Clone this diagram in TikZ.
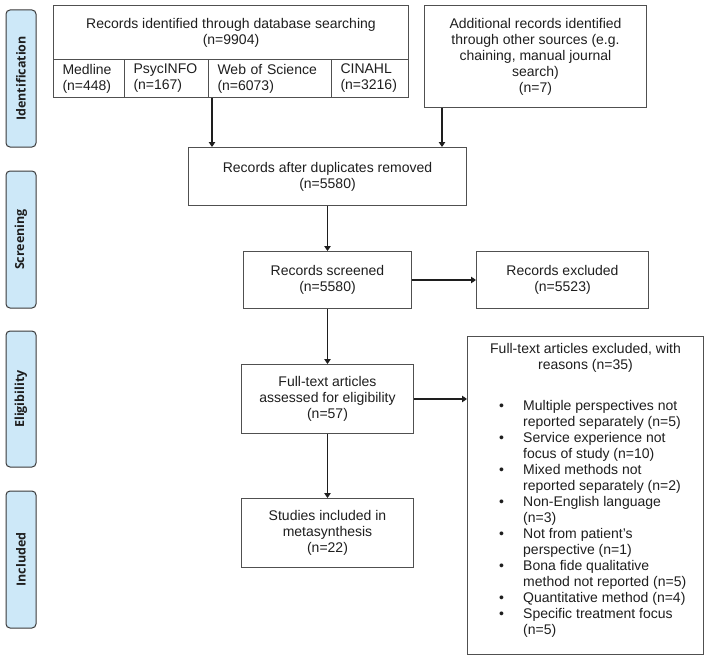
\documentclass[tikz,border=0pt]{standalone}
\usepackage{fontspec}
\setmainfont{Liberation Sans}
\newfontfamily\labfont{Open Sans}
\usetikzlibrary{arrows.meta}
\definecolor{boxline}{HTML}{505050}
\definecolor{sidefill}{HTML}{CDE8F8}
\definecolor{sideline}{HTML}{3A3A3A}
\definecolor{ink}{HTML}{1E1E1E}
\begin{document}
\begin{tikzpicture}[x=1pt,y=-1pt,
  every node/.style={font=\fontsize{14}{16}\selectfont, text=ink},
  box/.style={draw=boxline, line width=1pt, inner sep=0pt, anchor=north west, align=center},
  cell/.style={box, align=left, inner xsep=9pt, inner ysep=0pt, minimum height=38pt},
  side/.style={draw=sideline, fill=sidefill, rounded corners=4pt, line width=1pt,
    minimum width=30pt, minimum height=137pt, inner sep=0pt, font=\labfont\bfseries\fontsize{12.5}{14}\selectfont},
  arr/.style={draw=ink, line width=1.1pt, -{Triangle[length=5pt,width=6.5pt]}},
  plain/.style={inner sep=0pt}]
\useasboundingbox (0,0) rectangle (709,661);

% phase labels
\node[side] (sidid) at (21,78.5) {\rotatebox{90}{Identification}};
\node[side] (sidscr) at (21,239.5) {\rotatebox{90}{Screening}};
\node[side, minimum height=136pt] (sidel) at (21,399) {\rotatebox{90}{Eligibility}};
\node[side] (sidinc) at (21,559.5) {\rotatebox{90}{Included}};

% database search
\node[box, minimum width=355pt, minimum height=54pt] (dbhead) at (53,5)
  {Records identified through database searching\\(n=9904)};
\node[cell, text width=53pt] (medline) at (53,59) {Medline\\(n=448)};
\node[cell, text width=66pt] (psyc) at (124,59) {PsycINFO\\(n=167)};
\node[cell, text width=105pt] (wos) at (208,59) {Web of Science\\(n=6073)};
\node[cell, text width=59pt] (cinahl) at (331,59) {CINAHL\\(n=3216)};

% other sources
\node[box, minimum width=222pt, minimum height=102pt] (add) at (424,5)
  {Additional records identified\\through other sources (e.g.\\chaining, manual journal\\search)\\(n=7)};

\node[box, minimum width=278pt, minimum height=58pt] (dup) at (188,147)
  {Records after duplicates removed\\(n=5580)};
\node[box, minimum width=168pt, minimum height=57pt] (scr) at (243,251)
  {Records screened\\(n=5580)};
\node[box, minimum width=172pt, minimum height=57pt] (exc) at (476,251)
  {Records excluded\\(n=5523)};
\node[box, minimum width=172pt, minimum height=69pt] (elig) at (241,364)
  {Full-text articles\\assessed for eligibility\\(n=57)};
\node[box, minimum width=172pt, minimum height=69pt] (inc) at (241,498)
  {Studies included in\\metasynthesis\\(n=22)};

% full-text exclusion box
\node[box, minimum width=236pt, minimum height=318pt] (ftx) at (467,336) {};
\node[plain, align=center, anchor=base] (ftxtitle) at (585.5,369)
  {Full-text articles excluded, with\\reasons (n=35)};
\node[plain, anchor=base west] (ftxlist) at (499,410) {%
  \begin{tabular}[t]{@{}p{24pt}@{}l@{}}
  \textbullet & Multiple perspectives not\\
              & reported separately (n=5)\\
  \textbullet & Service experience not\\
              & focus of study (n=10)\\
  \textbullet & Mixed methods not\\
              & reported separately (n=2)\\
  \textbullet & Non-English language\\
              & (n=3)\\
  \textbullet & Not from patient’s\\
              & perspective (n=1)\\
  \textbullet & Bona fide qualitative\\
              & method not reported (n=5)\\
  \textbullet & Quantitative method (n=4)\\
  \textbullet & Specific treatment focus\\
              & (n=5)
  \end{tabular}};

% connectors
\draw[arr] ([xshift=4pt]wos.south west) -- ([xshift=4pt]wos.south west |- dup.north);
\draw[arr] ([xshift=18pt]add.south west) -- ([xshift=18pt]add.south west |- dup.north);
\draw[arr] (dup.south) -- (scr.north);
\draw[arr] (scr.east) -- (exc.west);
\draw[arr] (scr.south) -- (elig.north);
\draw[arr] (elig.east) -- (elig.east -| ftx.west);
\draw[arr] (elig.south) -- (inc.north);
\end{tikzpicture}
\end{document}
